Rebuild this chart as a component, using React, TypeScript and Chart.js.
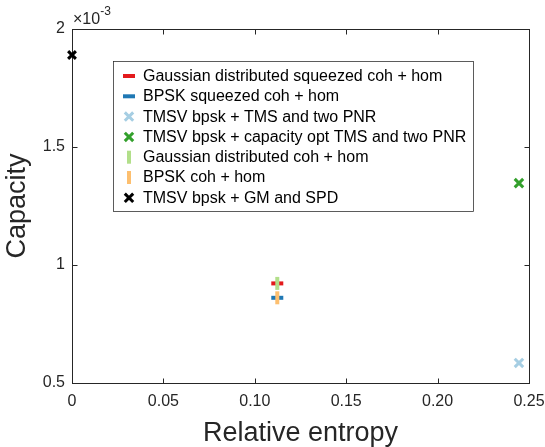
import React, { useEffect, useRef } from "react";
import { Chart, registerables } from "chart.js";

Chart.register(...registerables);

// ---- data (capacity in units of 10^-3) ----
const seriesLabels = [
  "Gaussian distributed squeezed coh + hom",
  "BPSK squeezed coh + hom",
  "TMSV bpsk + TMS and two PNR",
  "TMSV bpsk + capacity opt TMS and two PNR",
  "Gaussian distributed coh + hom",
  "BPSK coh + hom",
  "TMSV bpsk + GM and SPD",
];
const relativeEntropy = [0.1123, 0.1123, 0.2445, 0.2445, 0.1123, 0.1123, 0];
const capacity = [0.922, 0.861, 0.585, 1.347, 0.922, 0.861, 1.89];
const seriesColors = ["#e31a1c", "#1f78b4", "#a6cee3", "#33a02c", "#b2df8a", "#fdbf6f", "#000000"];
const seriesMarkers = ["hline", "hline", "x", "x", "vline", "vline", "x"];
const xTicks = [0, 0.05, 0.1, 0.15, 0.2, 0.25];
const yTicks = [0.5, 1, 1.5, 2];

const FONT = "'Liberation Sans', Helvetica, Arial, sans-serif";
const AX = "#262626";

function markerStyle(m: string, i: number) {
  if (m === "hline") return { pointStyle: "line", rotation: 0, radius: 6, borderWidth: 4 };
  if (m === "vline") return { pointStyle: "line", rotation: 90, radius: 6.5, borderWidth: 4 };
  return { pointStyle: "crossRot", rotation: 0, radius: i === 6 ? 5.5 : 6, borderWidth: 3 };
}

function drawMarker(ctx: CanvasRenderingContext2D, m: string, x: number, y: number, color: string) {
  ctx.save();
  ctx.strokeStyle = color;
  ctx.beginPath();
  if (m === "hline") {
    ctx.lineWidth = 4;
    ctx.moveTo(x - 6, y);
    ctx.lineTo(x + 6, y);
  } else if (m === "vline") {
    ctx.lineWidth = 4;
    ctx.moveTo(x, y - 6.5);
    ctx.lineTo(x, y + 6.5);
  } else {
    ctx.lineWidth = 3;
    const d = 4.2;
    ctx.moveTo(x - d, y - d);
    ctx.lineTo(x + d, y + d);
    ctx.moveTo(x + d, y - d);
    ctx.lineTo(x - d, y + d);
  }
  ctx.stroke();
  ctx.restore();
}

const framePlugin = {
  id: "matlabFrame",
  beforeDatasetsDraw(chart: any) {
    const { ctx, chartArea: a, scales } = chart;
    ctx.save();
    ctx.strokeStyle = AX;
    ctx.lineWidth = 1;
    const L = Math.round(a.left) + 0.5;
    const R = Math.round(a.right) + 0.5;
    const T = Math.round(a.top) + 0.5;
    const B = Math.round(a.bottom) + 0.5;
    ctx.strokeRect(L, T, R - L, B - T);
    const tl = 5;
    ctx.beginPath();
    xTicks.forEach((v) => {
      const px = Math.round(scales.x.getPixelForValue(v)) + 0.5;
      ctx.moveTo(px, B);
      ctx.lineTo(px, B - tl);
      ctx.moveTo(px, T);
      ctx.lineTo(px, T + tl);
    });
    yTicks.forEach((v) => {
      const py = Math.round(scales.y.getPixelForValue(v)) + 0.5;
      ctx.moveTo(L, py);
      ctx.lineTo(L + tl, py);
      ctx.moveTo(R, py);
      ctx.lineTo(R - tl, py);
    });
    ctx.stroke();
    ctx.restore();
  },
  afterDraw(chart: any) {
    const { ctx, chartArea: a } = chart;
    ctx.save();
    // exponent label
    ctx.fillStyle = AX;
    ctx.textBaseline = "middle";
    ctx.textAlign = "left";
    ctx.font = `16px ${FONT}`;
    ctx.fillText("\u00d710", a.left + 1, 20);
    const w = ctx.measureText("\u00d710").width;
    ctx.font = `12px ${FONT}`;
    ctx.fillText("-3", a.left + 1 + w, 12);

    // legend
    const bx = 113.5, by = 61.5, bw = 360, bh = 150;
    ctx.fillStyle = "#ffffff";
    ctx.fillRect(bx, by, bw, bh);
    ctx.strokeStyle = AX;
    ctx.lineWidth = 0.75;
    ctx.strokeRect(bx, by, bw, bh);
    ctx.font = `16px ${FONT}`;
    ctx.textBaseline = "middle";
    seriesLabels.forEach((lab, i) => {
      const y = 76 + i * 20.3;
      drawMarker(ctx, seriesMarkers[i], 129, y, seriesColors[i]);
      ctx.fillStyle = "#000000";
      ctx.fillText(lab, 143, y + 0.5);
    });
    ctx.restore();
  },
};

export default function App() {
  const ref = useRef<HTMLCanvasElement | null>(null);
  useEffect(() => {
    if (!ref.current) return;
    const datasets = seriesLabels.map((lab, i) => {
      const ms = markerStyle(seriesMarkers[i], i);
      return {
        label: lab,
        data: [{ x: relativeEntropy[i], y: capacity[i] }],
        borderColor: seriesColors[i],
        backgroundColor: seriesColors[i],
        pointStyle: ms.pointStyle,
        pointRotation: ms.rotation,
        pointRadius: ms.radius,
        pointBorderWidth: ms.borderWidth,
        pointHoverRadius: ms.radius,
        showLine: false,
        clip: false,
        order: 10 - i,
      };
    });
    const chart = new Chart(ref.current, {
      type: "scatter",
      data: { datasets } as any,
      options: {
        responsive: false,
        animation: false,
        devicePixelRatio: 1,
        layout: { padding: { top: 29, right: 16, left: 0, bottom: 0 } },
        plugins: { legend: { display: false }, tooltip: { enabled: false } },
        scales: {
          x: {
            type: "linear",
            min: 0,
            max: 0.25,
            afterBuildTicks: (s: any) => {
              s.ticks = xTicks.map((v) => ({ value: v }));
            },
            afterFit: (s: any) => {
              s.height = 64;
              s.paddingLeft = 0;
              s.paddingRight = 0;
            },
            grid: { display: false, drawTicks: false },
            border: { display: false },
            ticks: { color: AX, font: { family: FONT, size: 16 }, padding: 9, maxRotation: 0 },
            title: {
              display: true,
              text: "Relative entropy",
              color: AX,
              font: { family: FONT, size: 27, lineHeight: 1 },
              padding: { top: 0, bottom: 0 },
            },
          },
          y: {
            type: "linear",
            min: 0.5,
            max: 2,
            afterBuildTicks: (s: any) => {
              s.ticks = yTicks.map((v) => ({ value: v }));
            },
            afterFit: (s: any) => {
              s.width = 72;
              s.paddingTop = 0;
              s.paddingBottom = 0;
            },
            grid: { display: false, drawTicks: false },
            border: { display: false },
            ticks: {
              color: AX,
              font: { family: FONT, size: 16 },
              padding: 7,
              callback: (v: any) => `${v}`,
            },
            title: {
              display: true,
              text: "Capacity",
              color: AX,
              font: { family: FONT, size: 27, lineHeight: 1 },
              padding: { top: 4, bottom: 0 },
            },
          },
        },
      },
      plugins: [framePlugin],
    } as any);
    return () => chart.destroy();
  }, []);
  return (
    <div style={{ position: "fixed", left: 0, top: 0, width: 545, height: 447, background: "#fff" }}>
      <canvas ref={ref} width={545} height={447} style={{ width: 545, height: 447 }} />
    </div>
  );
}
